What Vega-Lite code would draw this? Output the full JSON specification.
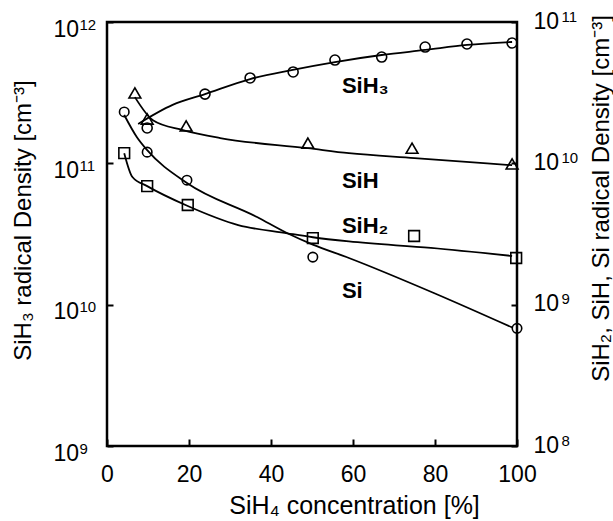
{
  "$schema": "https://vega.github.io/schema/vega-lite/v6.json",
  "width": 410,
  "height": 424,
  "autosize": {"type": "none"},
  "padding": {"left": 107, "top": 22, "right": 96, "bottom": 75},
  "background": "white",
  "config": {
    "font": "Liberation Sans",
    "view": {"stroke": "black", "strokeWidth": 2.5},
    "axis": {
      "grid": false,
      "domain": false,
      "labelFont": "Liberation Sans",
      "labelFontSize": 23,
      "labelColor": "black",
      "titleFont": "Liberation Sans",
      "titleFontSize": 24,
      "titleFontWeight": "normal",
      "titleColor": "black",
      "tickColor": "black",
      "tickWidth": 2,
      "tickSize": -6,
      "labelOverlap": false,
      "labelFlush": false
    }
  },
  "datasets": {
    "pts": [
      {"series": "SiH3", "x": 9.8, "y": 1.78e11},
      {"series": "SiH3", "x": 23.9, "y": 3.09e11},
      {"series": "SiH3", "x": 34.9, "y": 4.02e11},
      {"series": "SiH3", "x": 45.4, "y": 4.43e11},
      {"series": "SiH3", "x": 55.6, "y": 5.38e11},
      {"series": "SiH3", "x": 67, "y": 5.65e11},
      {"series": "SiH3", "x": 77.6, "y": 6.65e11},
      {"series": "SiH3", "x": 87.8, "y": 6.99e11},
      {"series": "SiH3", "x": 98.8, "y": 7.1e11},
      {"series": "SiH", "x": 6.8, "y": 3.15e10},
      {"series": "SiH", "x": 9.8, "y": 2.06e10},
      {"series": "SiH", "x": 19.3, "y": 1.84e10},
      {"series": "SiH", "x": 49, "y": 1.39e10},
      {"series": "SiH", "x": 74.4, "y": 1.28e10},
      {"series": "SiH", "x": 98.8, "y": 9.9e9},
      {"series": "SiH2", "x": 4.2, "y": 1.18e10},
      {"series": "SiH2", "x": 9.8, "y": 6.9e9},
      {"series": "SiH2", "x": 19.7, "y": 5.07e9},
      {"series": "SiH2", "x": 50.2, "y": 2.96e9},
      {"series": "SiH2", "x": 74.9, "y": 3.06e9},
      {"series": "SiH2", "x": 99.8, "y": 2.14e9},
      {"series": "Si", "x": 4.2, "y": 2.31e10},
      {"series": "Si", "x": 9.8, "y": 1.2e10},
      {"series": "Si", "x": 19.5, "y": 7.6e9},
      {"series": "Si", "x": 50.2, "y": 2.17e9},
      {"series": "Si", "x": 100, "y": 6.8e8}
    ],
    "curves": [
      {"series": "SiH3", "x": 7.6, "y": 1.9e11},
      {"series": "SiH3", "x": 16, "y": 2.59e11},
      {"series": "SiH3", "x": 23.9, "y": 3.09e11},
      {"series": "SiH3", "x": 34.9, "y": 3.95e11},
      {"series": "SiH3", "x": 45, "y": 4.57e11},
      {"series": "SiH3", "x": 55.6, "y": 5.21e11},
      {"series": "SiH3", "x": 67, "y": 5.84e11},
      {"series": "SiH3", "x": 77.6, "y": 6.34e11},
      {"series": "SiH3", "x": 87.8, "y": 6.88e11},
      {"series": "SiH3", "x": 98.8, "y": 7.22e11},
      {"series": "SiH", "x": 6.8, "y": 2.94e10},
      {"series": "SiH", "x": 11.2, "y": 2.02e10},
      {"series": "SiH", "x": 18.5, "y": 1.72e10},
      {"series": "SiH", "x": 27.6, "y": 1.51e10},
      {"series": "SiH", "x": 49, "y": 1.28e10},
      {"series": "SiH", "x": 59, "y": 1.18e10},
      {"series": "SiH", "x": 75, "y": 1.09e10},
      {"series": "SiH", "x": 98.8, "y": 9.7e9},
      {"series": "SiH2", "x": 4.2, "y": 1.18e10},
      {"series": "SiH2", "x": 6.2, "y": 8.0e9},
      {"series": "SiH2", "x": 9.8, "y": 6.9e9},
      {"series": "SiH2", "x": 19.7, "y": 4.99e9},
      {"series": "SiH2", "x": 32, "y": 3.66e9},
      {"series": "SiH2", "x": 44, "y": 3.2e9},
      {"series": "SiH2", "x": 50.2, "y": 3.0e9},
      {"series": "SiH2", "x": 59, "y": 2.8e9},
      {"series": "SiH2", "x": 79, "y": 2.52e9},
      {"series": "SiH2", "x": 98.8, "y": 2.21e9},
      {"series": "Si", "x": 4.2, "y": 2.2e10},
      {"series": "Si", "x": 7.3, "y": 1.53e10},
      {"series": "Si", "x": 9.8, "y": 1.24e10},
      {"series": "Si", "x": 19.5, "y": 7.26e9},
      {"series": "Si", "x": 36.6, "y": 4.17e9},
      {"series": "Si", "x": 44, "y": 3.2e9},
      {"series": "Si", "x": 50.2, "y": 2.66e9},
      {"series": "Si", "x": 59, "y": 2.14e9},
      {"series": "Si", "x": 80, "y": 1.2e9},
      {"series": "Si", "x": 98.8, "y": 6.9e8}
    ],
    "labels": [
      {"label": "SiH₃", "x": 57.3, "y": 3.14e11},
      {"label": "SiH", "x": 57.3, "y": 6.69e10},
      {"label": "SiH₂", "x": 57.3, "y": 3.21e10},
      {"label": "Si", "x": 57.3, "y": 1.11e10}
    ]
  },
  "encoding": {
    "x": {
      "field": "x",
      "type": "quantitative",
      "scale": {"domain": [0, 100], "nice": false, "zero": false},
      "axis": {
        "orient": "bottom",
        "values": [0, 20, 40, 60, 80, 100],
        "tickSize": -7,
        "labelPadding": 42,
        "labelBaseline": "alphabetic",
        "title": "SiH₄ concentration [%]",
        "titleFontSize": 25,
        "titleX": 247,
        "titleY": 67,
        "titleAlign": "center",
        "titleBaseline": "alphabetic"
      }
    }
  },
  "layer": [
    {
      "layer": [
        {
          "data": {"name": "curves"},
          "transform": [{"filter": "datum.series == 'SiH3'"}],
          "mark": {"type": "line", "interpolate": "monotone", "color": "black", "strokeWidth": 1.8},
          "encoding": {
            "y": {
              "field": "y",
              "type": "quantitative",
              "scale": {"type": "log", "domain": [1e9, 1e12], "nice": false},
              "axis": {
                "orient": "left",
                "values": [1e9, 1e10, 1e11, 1e12],
                "labelExpr": "'10'",
                "labelAlign": "left",
                "labelBaseline": "alphabetic",
                "labelPadding": 60,
                "labelOffset": 14,
                "title": "SiH₃ radical Density [cm⁻³]",
                "titleAngle": 270,
                "titleX": -77,
                "titleY": 198,
                "titleAlign": "center",
                "titleBaseline": "alphabetic"
              }
            }
          }
        },
        {
          "data": {"name": "pts"},
          "transform": [{"filter": "datum.series == 'SiH3'"}],
          "mark": {"type": "point", "shape": "circle", "filled": false, "color": "black", "strokeWidth": 1.6, "opacity": 1, "size": 100},
          "encoding": {
            "y": {
              "field": "y",
              "type": "quantitative",
              "scale": {"type": "log", "domain": [1e9, 1e12], "nice": false},
              "axis": {
                "orient": "left",
                "values": [1e9, 1e10, 1e11, 1e12],
                "labelExpr": "format(round(log(datum.value)/LN10), 'd')",
                "ticks": false,
                "labelFontSize": 15,
                "labelAlign": "left",
                "labelBaseline": "alphabetic",
                "labelPadding": 28,
                "labelOffset": 7,
                "title": null
              }
            }
          }
        },
        {
          "data": {"name": "labels"},
          "mark": {"type": "text", "align": "left", "baseline": "alphabetic", "font": "Liberation Sans", "fontSize": 22, "fontWeight": "bold", "color": "black"},
          "encoding": {
            "y": {
              "field": "y",
              "type": "quantitative",
              "scale": {"type": "log", "domain": [1e9, 1e12], "nice": false},
              "axis": null
            },
            "text": {"field": "label"}
          }
        }
      ],
      "resolve": {"axis": {"y": "independent"}}
    },
    {
      "layer": [
        {
          "data": {"name": "curves"},
          "transform": [{"filter": "datum.series != 'SiH3'"}],
          "mark": {"type": "line", "interpolate": "monotone", "color": "black", "strokeWidth": 1.8},
          "encoding": {
            "y": {
              "field": "y",
              "type": "quantitative",
              "scale": {"type": "log", "domain": [1e8, 1e11], "nice": false},
              "axis": {
                "orient": "right",
                "values": [1e8, 1e9, 1e10, 1e11],
                "labelExpr": "'10'",
                "labelAlign": "left",
                "labelBaseline": "alphabetic",
                "labelPadding": 22,
                "labelOffset": 6,
                "title": "SiH₂, SiH, Si  radical Density [cm⁻³]",
                "titleAngle": 270,
                "titleX": 91,
                "titleY": 176,
                "titleAlign": "center",
                "titleBaseline": "alphabetic"
              }
            },
            "detail": {"field": "series"}
          }
        },
        {
          "data": {"name": "pts"},
          "transform": [{"filter": "datum.series != 'SiH3'"}],
          "mark": {"type": "point", "filled": false, "color": "black", "strokeWidth": 1.6, "opacity": 1},
          "encoding": {
            "y": {
              "field": "y",
              "type": "quantitative",
              "scale": {"type": "log", "domain": [1e8, 1e11], "nice": false},
              "axis": {
                "orient": "right",
                "values": [1e8, 1e9, 1e10, 1e11],
                "labelExpr": "format(round(log(datum.value)/LN10), 'd')",
                "ticks": false,
                "labelFontSize": 15,
                "labelAlign": "left",
                "labelBaseline": "alphabetic",
                "labelPadding": 44,
                "labelOffset": -1,
                "title": null
              }
            },
            "shape": {"field": "series", "type": "nominal", "scale": {"domain": ["SiH", "SiH2", "Si"], "range": ["triangle-up", "square", "circle"]}, "legend": null},
            "size": {"field": "series", "type": "nominal", "scale": {"domain": ["SiH", "SiH2", "Si"], "range": [140, 90, 100]}, "legend": null}
          }
        }
      ],
      "resolve": {"axis": {"y": "independent"}}
    }
  ],
  "resolve": {"scale": {"y": "independent", "shape": "independent", "size": "independent"}}
}
